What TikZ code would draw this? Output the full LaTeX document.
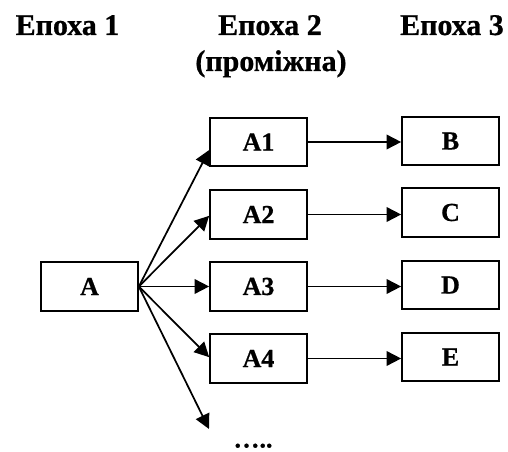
\documentclass[tikz,border=0pt]{standalone}
\usepackage{fontspec}
\setmainfont{Liberation Serif}[BoldFeatures={FakeBold=0.7}]
\usetikzlibrary{arrows.meta}

\tikzset{
  epbox/.style={draw, line width=1.5pt, minimum width=72.5pt, minimum height=36.5pt,
    inner sep=0pt, font=\fontsize{19.5}{21}\selectfont\bfseries},
  eptitle/.style={anchor=base, font=\fontsize{22.5}{27}\selectfont\bfseries},
  eparrow/.style={line width=1.3pt, -{Triangle[length=11pt,width=11pt]}}
}

\begin{document}
\begin{tikzpicture}[x=0.75pt, y=-0.75pt]
\useasboundingbox (0,0) rectangle (508,452);

% epochs
\node[eptitle] (t1) at (67.5,35) {Епоха 1};
\node[eptitle] (t2) at (270,35) {Епоха 2};
\node[eptitle] (t2b) at (271,71) {(проміжна)};
\node[eptitle] (t3) at (452,35) {Епоха 3};

% first epoch
\node[epbox] (a) at (89.5,286.5) {A};

% intermediate epoch
\node[epbox] (a1) at (258.5,142) {A1};
\node[epbox] (a2) at (258.5,214.5) {A2};
\node[epbox] (a3) at (258.5,286.5) {A3};
\node[epbox] (a4) at (258.5,358.5) {A4};
\coordinate (more) at (209,429);
\node[anchor=base, inner sep=0pt, font=\fontsize{19.5}{21}\selectfont\bfseries] (dots) at (253,447.5) {…..};

% third epoch
\node[epbox] (b) at (450.5,141) {B};
\node[epbox] (c) at (450.5,212.5) {C};
\node[epbox] (d) at (450.5,285) {D};
\node[epbox] (e) at (450.5,357) {E};

% branching
\draw[eparrow] (a.east) -- ([yshift=-6pt]a1.west);
\draw[eparrow] (a.east) -- ([yshift=-1pt]a2.west);
\draw[eparrow] (a.east) -- (a3.west);
\draw[eparrow] (a.east) -- ([yshift=1pt]a4.west);
\draw[eparrow] (a.east) -- (more);

\draw[eparrow] (a1.east) -- (a1.east -| b.west);
\draw[eparrow] (a2.east) -- (a2.east -| c.west);
\draw[eparrow] (a3.east) -- (a3.east -| d.west);
\draw[eparrow] (a4.east) -- (a4.east -| e.west);

\end{tikzpicture}
\end{document}
